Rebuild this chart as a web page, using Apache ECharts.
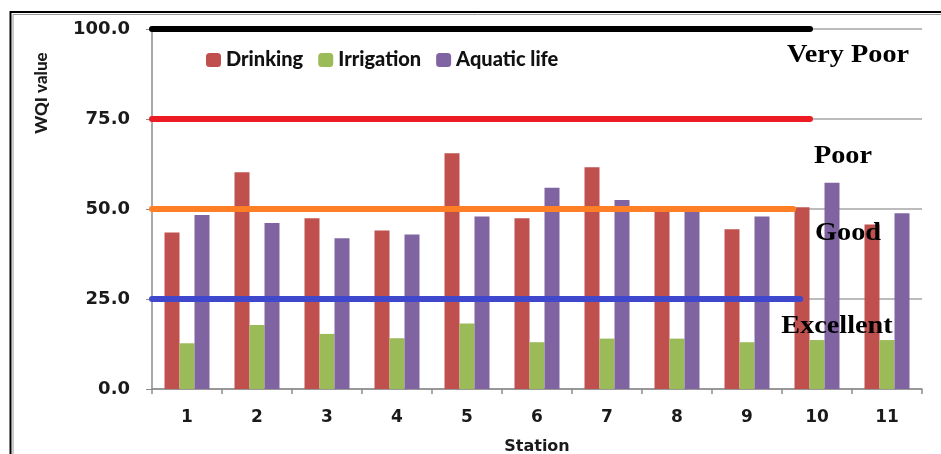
<!DOCTYPE html>
<html><head><meta charset="utf-8">
<script src="https://cdn.jsdelivr.net/npm/echarts@6/dist/echarts.min.js"></script>
<style>html,body{margin:0;padding:0;background:#fff}#c{width:941px;height:454px}</style>
</head><body><div id="c"></div>
<script>
const stations = ['1','2','3','4','5','6','7','8','9','10','11'];
const drinking = [43.5, 60.2, 47.4, 44.0, 65.5, 47.4, 61.6, 49.8, 44.4, 50.5, 45.7];
const irrigation = [12.7, 17.8, 15.3, 14.1, 18.2, 13.0, 14.0, 14.0, 13.0, 13.6, 13.6];
const aquatic = [48.3, 46.1, 41.9, 42.9, 47.9, 55.9, 52.5, 49.7, 47.9, 57.3, 48.8];
const yTicks = [0, 25, 50, 75, 100];
const thresholdValues = [100, 75, 50, 25];
const thresholdEnds = [9.4, 9.4, 9.16, 9.26];
const classLabels = ['Very Poor', 'Poor', 'Good', 'Excellent'];

const lineColors = ['#000000', '#ED1C24', '#FF7F27', '#3F48CC'];
const labelPos = [[848, 56], [843, 157], [848, 234], [837, 327]];

const chart = echarts.init(document.getElementById('c'));
const thresholdSeries = thresholdValues.map((v, i) => ({
  type: 'line', xAxisIndex: 1, yAxisIndex: 0, symbol: 'none', silent: true, z: 5,
  data: [[0, v], [thresholdEnds[i], v]],
  lineStyle: { color: lineColors[i], width: 6, cap: 'round' }
}));
const lbl = (t, x, y) => ({
  type: 'text', x: x, y: y, scaleX: 1.13, z: 100,
  style: { text: t, fontFamily: 'Liberation Serif', fontWeight: 'bold', fontSize: 25,
    fill: '#000', align: 'center', verticalAlign: 'middle' }
});
chart.setOption({
  animation: false,
  grid: { left: 152, right: 19, top: 29, bottom: 65, outerBoundsMode: 'none', containLabel: false },
  legend: {
    data: ['Drinking', 'Irrigation', 'Aquatic life'],
    left: 201, top: 45, itemWidth: 15, itemHeight: 14, itemGap: 15,
    textStyle: { fontFamily: 'Lato', fontWeight: 900, fontSize: 20, color: '#111' }
  },
  xAxis: [{
    type: 'category', data: stations,
    name: 'Station', nameLocation: 'middle', nameGap: 50,
    nameTextStyle: { fontFamily: 'DejaVu Sans', fontWeight: 'bold', fontSize: 16, color: '#1a1a1a' },
    axisLine: { lineStyle: { color: '#8c8c8c', width: 1.5 } },
    axisTick: { show: true, length: 5, lineStyle: { color: '#8c8c8c', width: 1.5 } },
    axisLabel: { margin: 20, fontFamily: 'DejaVu Sans', fontWeight: 'bold', fontSize: 17, color: '#1a1a1a' }
  }, {
    type: 'value', min: 0, max: 11, show: false
  }],
  yAxis: {
    type: 'value', min: yTicks[0], max: yTicks[yTicks.length - 1], interval: 25,
    axisLine: { show: true, lineStyle: { color: '#8c8c8c', width: 1.5 } },
    axisTick: { show: true, length: 6, lineStyle: { color: '#8c8c8c' } },
    axisLabel: { margin: 22, fontFamily: 'DejaVu Sans', fontWeight: 'bold', fontSize: 18, color: '#1a1a1a',
      formatter: v => v.toFixed(1) },
    splitLine: { lineStyle: { color: '#a6a6a6', width: 1.5 } }
  },
  series: [
    { name: 'Drinking', type: 'bar', data: drinking, barWidth: 15, barGap: '0%', itemStyle: { color: '#C0504D' } },
    { name: 'Irrigation', type: 'bar', data: irrigation, barWidth: 15, barGap: '0%', itemStyle: { color: '#9BBB59' } },
    { name: 'Aquatic life', type: 'bar', data: aquatic, barWidth: 15, barGap: '0%', itemStyle: { color: '#8064A2' } }
  ].concat(thresholdSeries),
  graphic: [
    { type: 'rect', shape: { x: 10.5, y: 12, width: 960, height: 480 }, style: { fill: 'none', stroke: '#000', lineWidth: 2 } },
    { type: 'rect', shape: { x: 13, y: 14.5, width: 960, height: 480 }, style: { fill: 'none', stroke: '#9a9a9a', lineWidth: 1 } },
    { type: 'text', x: 42, y: 93, rotation: Math.PI / 2, z: 100,
      style: { text: 'WQI value', fontFamily: 'Lato', fontWeight: 900, fontSize: 17, fill: '#1a1a1a', align: 'center', verticalAlign: 'middle' } }
  ].concat(classLabels.map((t, i) => lbl(t, labelPos[i][0], labelPos[i][1])))
});
</script></body></html>
